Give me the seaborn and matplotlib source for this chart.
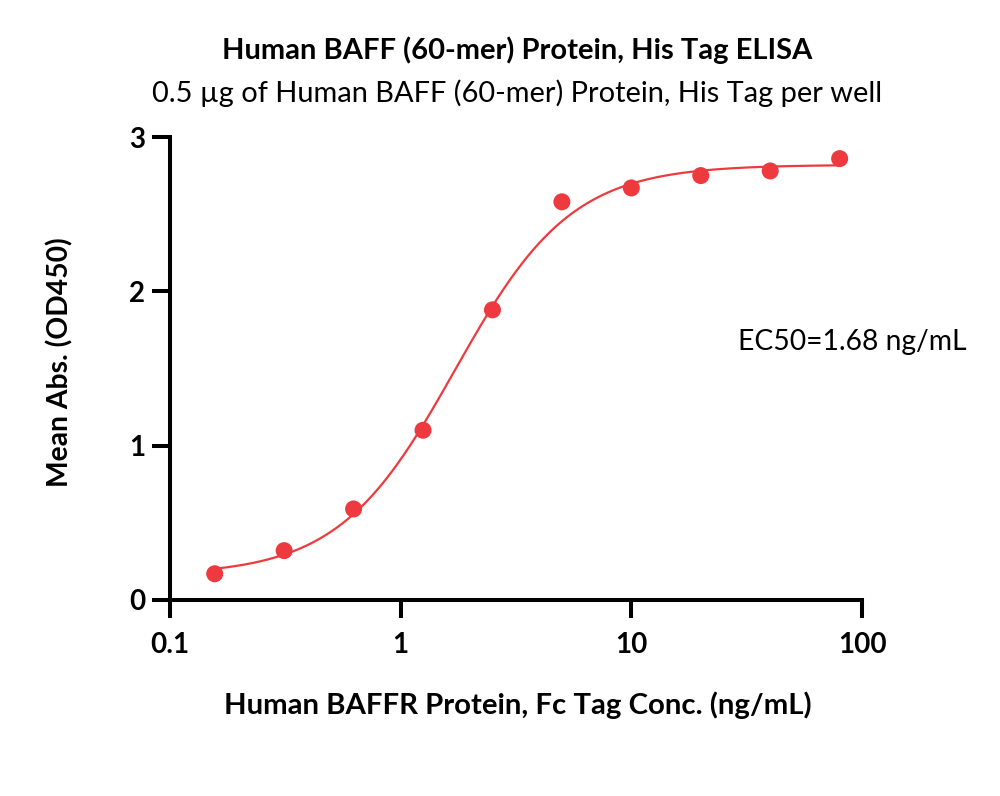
import numpy as np
import pandas as pd
import matplotlib
matplotlib.use("Agg")
import matplotlib.pyplot as plt
import seaborn as sns

# ---- data ----
conc = [0.15625, 0.3125, 0.625, 1.25, 2.5, 5, 10, 20, 40, 80]
od450 = [0.17, 0.32, 0.59, 1.10, 1.88, 2.58, 2.67, 2.75, 2.78, 2.86]
# 4PL fit parameters (bottom, top, ec50, hill)
fit_bottom = 0.16
fit_top = 2.82
fit_ec50 = 1.72
fit_hill = 1.72
x_ticks = [0.1, 1, 10, 100]
x_tick_labels = ["0.1", "1", "10", "100"]
y_ticks = [0, 1, 2, 3]
y_tick_labels = ["0", "1", "2", "3"]

title = "Human BAFF (60-mer) Protein, His Tag ELISA"
subtitle = "0.5 \u00b5g of Human BAFF (60-mer) Protein, His Tag per well"
xlabel = "Human BAFFR Protein, Fc Tag Conc. (ng/mL)"
ylabel = "Mean Abs. (OD450)"
ec50_text = "EC50=1.68 ng/mL"

RED = "#EE3A3E"

sns.set_theme(style="ticks")
plt.rcParams["font.family"] = ["Lato", "DejaVu Sans"]

W, H = 1000, 796
fig = plt.figure(figsize=(W / 100, H / 100), dpi=100)
ax = fig.add_axes([170 / W, 1 - 600 / H, (862 - 170) / W, (600 - 137) / H])

df_pts = pd.DataFrame({"conc": conc, "od": od450})
xs = np.logspace(np.log10(min(conc)), np.log10(max(conc)), 400)
ys = fit_bottom + (fit_top - fit_bottom) / (1 + (fit_ec50 / xs) ** fit_hill)
df_fit = pd.DataFrame({"conc": xs, "od": ys})

sns.lineplot(data=df_fit, x="conc", y="od", ax=ax, color=RED, linewidth=1.6)
sns.scatterplot(data=df_pts, x="conc", y="od", ax=ax, color=RED, s=150,
                edgecolor="none", zorder=3, clip_on=False)

ax.set_xscale("log")
ax.set_xlim(0.1, 100)
ax.set_ylim(0, 3)
ax.set_xticks(x_ticks)
ax.set_yticks(y_ticks)
ax.xaxis.set_minor_locator(matplotlib.ticker.NullLocator())
ax.set_xticklabels(x_tick_labels, fontsize=20, fontweight="bold", color="black")
ax.set_yticklabels(y_tick_labels, fontsize=20, fontweight="bold", color="black")
ax.set_xlabel("")
ax.set_ylabel("")
for s in ["top", "right"]:
    ax.spines[s].set_visible(False)
for s in ["left", "bottom"]:
    ax.spines[s].set_color("black")
    ax.spines[s].set_linewidth(2.9)
ax.tick_params(axis="both", which="major", direction="out", length=13,
               width=2.9, color="black", bottom=True, left=True)
ax.tick_params(axis="x", pad=10)
ax.tick_params(axis="y", pad=5)

def fx(px):
    return px / W

def fy(py):
    return 1 - py / H

t1 = fig.text(fx(517), fy(50), title, ha="center", va="center",
              fontsize=17, fontweight="bold", color="black")
t2 = fig.text(fx(517), fy(93), subtitle, ha="center", va="center",
              fontsize=17, color="black")
t3 = fig.text(fx(518), fy(705), xlabel, ha="center", va="center",
              fontsize=17, fontweight="bold", color="black")
t4 = fig.text(fx(60), fy(362), ylabel, ha="center", va="center",
              rotation=90, fontsize=17, fontweight="bold", color="black")
t5 = fig.text(fx(738), fy(342), ec50_text, ha="left", va="center",
              fontsize=17, color="black")

# scale fonts so that text widths match the reference
targets = [(t1, 590, False), (t2, 730, False), (t3, 588, False),
           (t4, 250, True), (t5, 229, False)]
renderer = fig.canvas.get_renderer()
for t, target, vertical in targets:
    bb = t.get_window_extent(renderer=renderer)
    cur = bb.height if vertical else bb.width
    t.set_fontsize(t.get_fontsize() * target / cur)

fig.savefig("out.png", dpi=100, facecolor="white")
